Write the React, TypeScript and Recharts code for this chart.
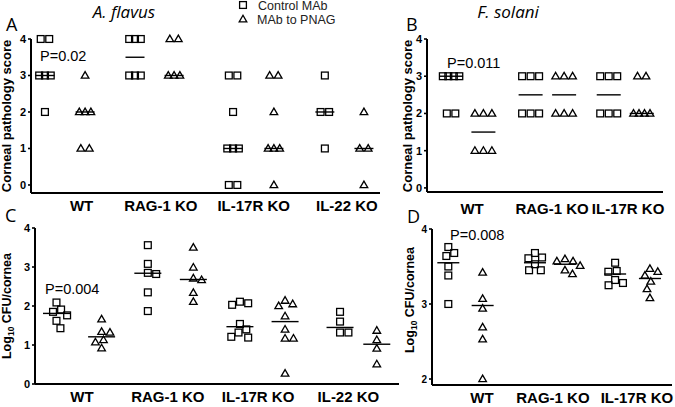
import React from 'react';
import { ScatterChart, Scatter, XAxis, YAxis } from 'recharts';

// ---------------- data ----------------
const categoriesFlavus = ['WT', 'RAG-1 KO', 'IL-17R KO', 'IL-22 KO'];
const categoriesSolani = ['WT', 'RAG-1 KO', 'IL-17R KO'];

// Panel A: corneal pathology score, A. flavus
const scoreFlavusControl = [
  [4, 4, 3, 3, 3, 2],
  [4, 4, 4, 3, 3, 3],
  [3, 3, 2, 1, 1, 1, 0, 0],
  [3, 2, 2, 1],
];
const scoreFlavusPnag = [
  [3, 2, 2, 2, 1, 1],
  [4, 4, 3, 3, 3],
  [3, 3, 2, 1, 1, 1, 0],
  [2, 1, 1, 0],
];
const scoreFlavusControlMedian = [3, 3.5, 1, 2];
const scoreFlavusPnagMedian = [2, 3, 1, 1];

// Panel B: corneal pathology score, F. solani
const scoreSolaniControl = [
  [3, 3, 3, 3, 2, 2],
  [3, 3, 3, 2, 2, 2],
  [3, 3, 3, 2, 2, 2],
];
const scoreSolaniPnag = [
  [2, 2, 2, 1, 1, 1],
  [3, 3, 3, 2, 2, 2],
  [3, 3, 2, 2, 2, 2],
];
const scoreSolaniControlMedian = [3, 2.5, 2.5];
const scoreSolaniPnagMedian = [1.5, 2.5, 2];

// Panel C: log10 CFU/cornea, A. flavus
const cfuFlavusControl = [
  [2.09, 1.91, 1.85, 1.76, 1.62, 1.43],
  [3.56, 3.08, 2.85, 2.82, 2.35, 1.87],
  [2.11, 2.07, 2.03, 1.54, 1.4, 1.32, 1.21, 1.19],
  [1.85, 1.6, 1.32, 1.32],
];
const cfuFlavusPnag = [
  [1.66, 1.34, 1.32, 1.13, 1.07, 0.92],
  [3.5, 2.99, 2.71, 2.67, 2.34, 2.11],
  [2.14, 2.05, 2.0, 1.74, 1.4, 1.17, 1.17, 0.27],
  [1.37, 1.13, 0.91, 0.51],
];
const cfuFlavusControlMedian = [1.81, 2.84, 1.47, 1.45];
const cfuFlavusPnagMedian = [1.21, 2.68, 1.6, 1.02];

// Panel D: log10 CFU/cornea, F. solani
const cfuSolaniControl = [
  [3.76, 3.68, 3.64, 3.5, 3.38, 3.0],
  [3.68, 3.62, 3.61, 3.53, 3.45, 3.45],
  [3.55, 3.44, 3.43, 3.32, 3.28, 3.25],
];
const cfuSolaniPnag = [
  [3.42, 3.07, 2.94, 2.69, 2.53, 2.0],
  [3.6, 3.57, 3.57, 3.51, 3.45, 3.4],
  [3.47, 3.43, 3.38, 3.3, 3.2, 3.08],
];
const cfuSolaniControlMedian = [3.55, 3.55, 3.4];
const cfuSolaniPnagMedian = [2.98, 3.53, 3.34];

const scoreTicks = [0, 1, 2, 3, 4];
const cfuTicksFlavus = [0, 1, 2, 3, 4];
const cfuTicksSolani = [2, 3, 4];

// ---------------- layout helpers ----------------
type Pt = { x: number; y: number; dx: number };

function gridOffsets(values: number[], spacing: (n: number) => number): number[] {
  const counts: Record<string, number> = {};
  const seen: Record<string, number> = {};
  values.forEach((v) => (counts[v] = (counts[v] || 0) + 1));
  return values.map((v) => {
    const n = counts[v];
    const i = seen[v] || 0;
    seen[v] = i + 1;
    return (i - (n - 1) / 2) * spacing(n);
  });
}

function swarmOffsets(values: number[], pxPerUnit: number, d: number): number[] {
  const placed: { x: number; y: number }[] = [];
  return values.map((v) => {
    const y = v * pxPerUnit;
    const cands = [0];
    placed.forEach((p) => {
      const dy = Math.abs(p.y - y);
      if (dy < d) {
        const dx = Math.sqrt(d * d - dy * dy);
        cands.push(p.x + dx, p.x - dx);
      }
    });
    cands.sort((a, b) => Math.abs(a) - Math.abs(b));
    const ok =
      cands.find((c) => placed.every((p) => (p.x - c) ** 2 + (p.y - y) ** 2 >= d * d - 0.01)) ?? 0;
    placed.push({ x: ok, y });
    return ok;
  });
}

const Square = (props: any) => {
  const { cx, cy, payload } = props;
  if (cx == null || cy == null) return null;
  const x = cx + (payload?.dx || 0);
  return <rect x={x - 3.4} y={cy - 3.4} width={6.8} height={6.8} fill="none" stroke="#000" strokeWidth={1.3} />;
};

const Triangle = (props: any) => {
  const { cx, cy, payload } = props;
  if (cx == null || cy == null) return null;
  const x = cx + (payload?.dx || 0);
  return (
    <path
      d={`M${x},${cy - 3.9} L${x + 3.8},${cy + 2.7} L${x - 3.8},${cy + 2.7} Z`}
      fill="none"
      stroke="#000"
      strokeWidth={1.3}
      strokeLinejoin="miter"
    />
  );
};

const MedianMark = (props: any) => {
  const { cx, cy, payload } = props;
  if (cx == null || cy == null) return null;
  const w = payload?.w || 20;
  return <line x1={cx - w / 2} x2={cx + w / 2} y1={cy} y2={cy} stroke="#000" strokeWidth={1.4} />;
};

type PanelCfg = {
  left: number;
  top: number;
  width: number;
  height: number;
  margin: { top: number; right: number; bottom: number; left: number };
  yAxisWidth: number;
  xAxisHeight: number;
  yDomain: [number, number];
  yTicks: number[];
  colX: number[];
  labelX: number[];
  categories: string[];
  tickGap: number;
  medianWidth: number;
  mode: 'grid' | 'swarm';
  spacing?: (n: number) => number;
  yTickFont: number;
  control: number[][];
  pnag: number[][];
  controlMedian: number[];
  pnagMedian: number[];
};

const FONT = '"Liberation Sans", Arial, sans-serif';

function Panel({ cfg }: { cfg: PanelCfg }) {
  const plotH = cfg.height - cfg.margin.top - cfg.margin.bottom - cfg.xAxisHeight;
  const pxPerUnit = plotH / (cfg.yDomain[1] - cfg.yDomain[0]);
  const build = (groups: number[][], offsetCol: number): Pt[] => {
    const pts: Pt[] = [];
    groups.forEach((vals, g) => {
      const offs =
        cfg.mode === 'grid'
          ? gridOffsets(vals, cfg.spacing || (() => 8))
          : swarmOffsets(vals, pxPerUnit, 8.4);
      vals.forEach((v, i) => pts.push({ x: cfg.colX[2 * g + offsetCol], y: v, dx: offs[i] }));
    });
    return pts;
  };
  const controlPts = build(cfg.control, 0);
  const pnagPts = build(cfg.pnag, 1);
  const medianPts = [
    ...cfg.controlMedian.map((m, g) => ({ x: cfg.colX[2 * g], y: m, w: cfg.medianWidth })),
    ...cfg.pnagMedian.map((m, g) => ({ x: cfg.colX[2 * g + 1], y: m, w: cfg.medianWidth })),
  ];
  return (
    <div style={{ position: 'absolute', left: cfg.left, top: cfg.top, width: cfg.width, height: cfg.height }}>
      <ScatterChart width={cfg.width} height={cfg.height} margin={cfg.margin} style={{ overflow: 'visible' }}>
        <XAxis
          type="number"
          dataKey="x"
          domain={[0, 100]}
          ticks={cfg.labelX}
          interval={0}
          tickFormatter={(v: number) => cfg.categories[cfg.labelX.indexOf(v)] ?? ''}
          tickLine={false}
          tickSize={0}
          tickMargin={cfg.tickGap}
          height={cfg.xAxisHeight}
          axisLine={{ stroke: '#000', strokeWidth: 2 }}
          tick={{ fill: '#000', fontSize: 15, fontWeight: 'bold', fontFamily: FONT }}
        />
        <YAxis
          type="number"
          dataKey="y"
          domain={cfg.yDomain}
          ticks={cfg.yTicks}
          interval={0}
          width={cfg.yAxisWidth}
          tickSize={3}
          tickMargin={2}
          tickLine={{ stroke: '#000', strokeWidth: 1.6 }}
          axisLine={{ stroke: '#000', strokeWidth: 2 }}
          tick={{ fill: '#000', fontSize: cfg.yTickFont, fontWeight: 'bold', fontFamily: FONT }}
        />
        <Scatter data={controlPts} shape={(p: any) => <Square {...p} />} isAnimationActive={false} />
        <Scatter data={pnagPts} shape={(p: any) => <Triangle {...p} />} isAnimationActive={false} />
        <Scatter data={medianPts} shape={(p: any) => <MedianMark {...p} />} isAnimationActive={false} />
      </ScatterChart>
    </div>
  );
}

const panelA: PanelCfg = {
  left: 0, top: 0, width: 390, height: 220,
  margin: { top: 39, right: 10, bottom: 0, left: 0 },
  yAxisWidth: 31, xAxisHeight: 27,
  yDomain: [-0.22, 4], yTicks: scoreTicks,
  colX: [4.0, 15.5, 29.8, 41.0, 57.9, 69.6, 84.2, 95.4],
  labelX: [14.5, 37.2, 63.8, 90.5],
  categories: categoriesFlavus,
  tickGap: 7, medianWidth: 19, mode: 'grid',
  spacing: (n) => (n <= 2 ? 8.5 : n === 3 ? 5.8 : 4.5),
  yTickFont: 11,
  control: scoreFlavusControl, pnag: scoreFlavusPnag,
  controlMedian: scoreFlavusControlMedian, pnagMedian: scoreFlavusPnagMedian,
};

const panelB: PanelCfg = {
  left: 380, top: 0, width: 295, height: 220,
  margin: { top: 39, right: 12, bottom: 0, left: 0 },
  yAxisWidth: 47, xAxisHeight: 28,
  yDomain: [-0.11, 4], yTicks: scoreTicks,
  colX: [10.2, 23.9, 43.9, 58.1, 77.0, 91.0],
  labelX: [19.1, 53.0, 85.2],
  categories: categoriesSolani,
  tickGap: 11, medianWidth: 24, mode: 'grid',
  spacing: (n) => (n <= 3 ? 8.5 : 5.5),
  yTickFont: 11,
  control: scoreSolaniControl, pnag: scoreSolaniPnag,
  controlMedian: scoreSolaniControlMedian, pnagMedian: scoreSolaniPnagMedian,
};

const panelC: PanelCfg = {
  left: 0, top: 200, width: 400, height: 207,
  margin: { top: 28, right: 1, bottom: 0, left: 0 },
  yAxisWidth: 35, xAxisHeight: 23,
  yDomain: [0, 4], yTicks: cfuTicksFlavus,
  colX: [5.9, 18.3, 31.0, 43.5, 56.3, 68.7, 83.8, 93.9],
  labelX: [12.9, 36.5, 61.3, 86.1],
  categories: categoriesFlavus,
  tickGap: 7, medianWidth: 27, mode: 'swarm',
  yTickFont: 11,
  control: cfuFlavusControl, pnag: cfuFlavusPnag,
  controlMedian: cfuFlavusControlMedian, pnagMedian: cfuFlavusPnagMedian,
};

const panelD: PanelCfg = {
  left: 400, top: 200, width: 275, height: 207,
  margin: { top: 29, right: 3, bottom: 0, left: 0 },
  yAxisWidth: 32, xAxisHeight: 22,
  yDomain: [1.92, 4], yTicks: cfuTicksSolani,
  colX: [6.8, 21.1, 42.9, 55.4, 76.3, 90.8],
  labelX: [20.8, 50.4, 85.4],
  categories: categoriesSolani,
  tickGap: 7, medianWidth: 22, mode: 'swarm',
  yTickFont: 10,
  control: cfuSolaniControl, pnag: cfuSolaniPnag,
  controlMedian: cfuSolaniControlMedian, pnagMedian: cfuSolaniPnagMedian,
};

function Overlay() {
  const title = { fontFamily: '"Open Sans", sans-serif', fontStyle: 'italic' as const, fontSize: 17, fill: '#000' };
  const letter = { fontFamily: '"Open Sans", sans-serif', fontSize: 18, fill: '#000' };
  const pval = { fontFamily: FONT, fontSize: 14.5, fill: '#000' };
  const legend = { fontFamily: FONT, fontSize: 12.5, fill: '#222' };
  const yl = { fontFamily: FONT, fontSize: 13, fontWeight: 'bold' as const, fill: '#000' };
  const yl2 = { fontFamily: FONT, fontSize: 12.5, fontWeight: 'bold' as const, fill: '#000' };
  return (
    <svg width={675} height={407} style={{ position: 'absolute', left: 0, top: 0, pointerEvents: 'none' }}>
      <text x={124} y={18} textAnchor="middle" style={title}>A. flavus</text>
      <text x={508} y={18} textAnchor="middle" style={title}>F. solani</text>
      <text x={6} y={31} style={letter}>A</text>
      <text x={406} y={31} style={letter}>B</text>
      <text x={5} y={222} style={letter}>C</text>
      <text x={407} y={223} style={letter}>D</text>

      <rect x={239.6} y={1.6} width={6.8} height={6.8} fill="none" stroke="#000" strokeWidth={1.3} />
      <text x={258} y={9.5} style={legend}>Control MAb</text>
      <path d="M243,15.3 L246.8,21.9 L239.2,21.9 Z" fill="none" stroke="#000" strokeWidth={1.3} />
      <text x={257} y={24} style={legend}>MAb to PNAG</text>

      <text x={40} y={60.5} style={pval}>P=0.02</text>
      <text x={447} y={68} style={pval}>P=0.011</text>
      <text x={45} y={294} style={pval}>P=0.004</text>
      <text x={450} y={240} style={pval}>P=0.008</text>

      <text transform="translate(11,116) rotate(-90)" textAnchor="middle" style={yl}>Corneal pathology score</text>
      <text transform="translate(412,116) rotate(-90)" textAnchor="middle" style={yl}>Corneal pathology score</text>
      <text transform="translate(11,306) rotate(-90)" textAnchor="middle" style={yl2}>
        Log<tspan fontSize={8.5} dy={3}>10</tspan><tspan dy={-3}> CFU/cornea</tspan>
      </text>
      <text transform="translate(414,300) rotate(-90)" textAnchor="middle" style={yl2}>
        Log<tspan fontSize={8.5} dy={3}>10</tspan><tspan dy={-3}> CFU/cornea</tspan>
      </text>
    </svg>
  );
}

export default function App() {
  return (
    <div style={{ position: 'absolute', left: 0, top: 0, width: 675, height: 407, background: '#fff', overflow: 'hidden' }}>
      <Panel cfg={panelA} />
      <Panel cfg={panelB} />
      <Panel cfg={panelC} />
      <Panel cfg={panelD} />
      <Overlay />
    </div>
  );
}
